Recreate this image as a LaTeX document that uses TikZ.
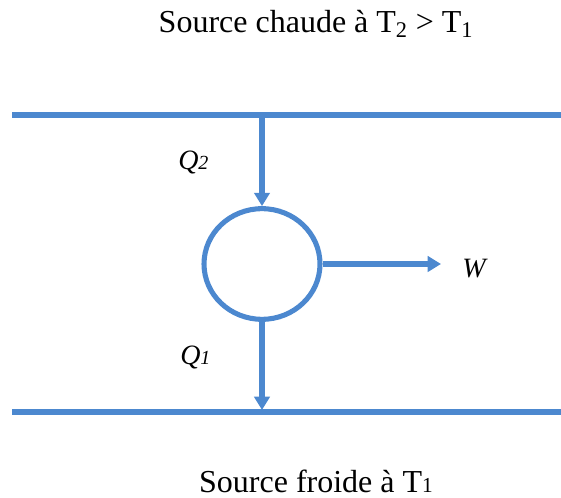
\documentclass[tikz,border=0pt]{standalone}
\usepackage{fontspec}
\setmainfont{Liberation Serif}
\usetikzlibrary{arrows.meta,shapes.geometric}
\definecolor{flowblue}{RGB}{76,136,207}
\tikzset{
  flow/.style={draw=flowblue,line width=3.8pt},
  flowarrow/.style={flow,-{Triangle[width=11.5pt,length=10pt]}},
  heading/.style={anchor=base,font=\fontsize{24}{28}\selectfont,inner sep=0pt},
  quantity/.style={anchor=base west,font=\fontsize{21}{24}\selectfont\itshape,inner sep=0pt}
}
\begin{document}
\begin{tikzpicture}[x=0.75pt,y=-0.75pt]
    \useasboundingbox (0,0) rectangle (561,498);
    \node[heading] (hot) at (316,33){Source chaude à T\textsubscript{2} > T\textsubscript{1}};
    \node[heading] (cold) at (316,493){Source froide à T{\fontsize{16}{18}\selectfont 1}};

    \coordinate (hotL) at (12,115);
    \coordinate (hotR) at (561,115);
    \coordinate (hotTap) at (262,115);
    \coordinate (coldL) at (12,412);
    \coordinate (coldR) at (561,412);
    \coordinate (coldTap) at (262,410);
    \coordinate (work) at (441,264);

    \node[flow,ellipse,minimum width=87pt,minimum height=83pt,inner sep=0pt] (engine) at (262,264){};

    \node[quantity] (Qhot) at (178,170){Q{\fontsize{15}{18}\selectfont 2}};
    \node[quantity] (Qcold) at (180,365){Q{\fontsize{15}{18}\selectfont 1}};
    \node[quantity] (W) at (462,278){W};

    \draw[flow] (hotL) -- (hotR);
    \draw[flow] (coldL) -- (coldR);
    \draw[flowarrow] (hotTap) -- (engine.north);
    \draw[flowarrow] (engine.south) -- (coldTap);
    \draw[flowarrow] (engine.east) -- (work);
  \end{tikzpicture}
\end{document}
